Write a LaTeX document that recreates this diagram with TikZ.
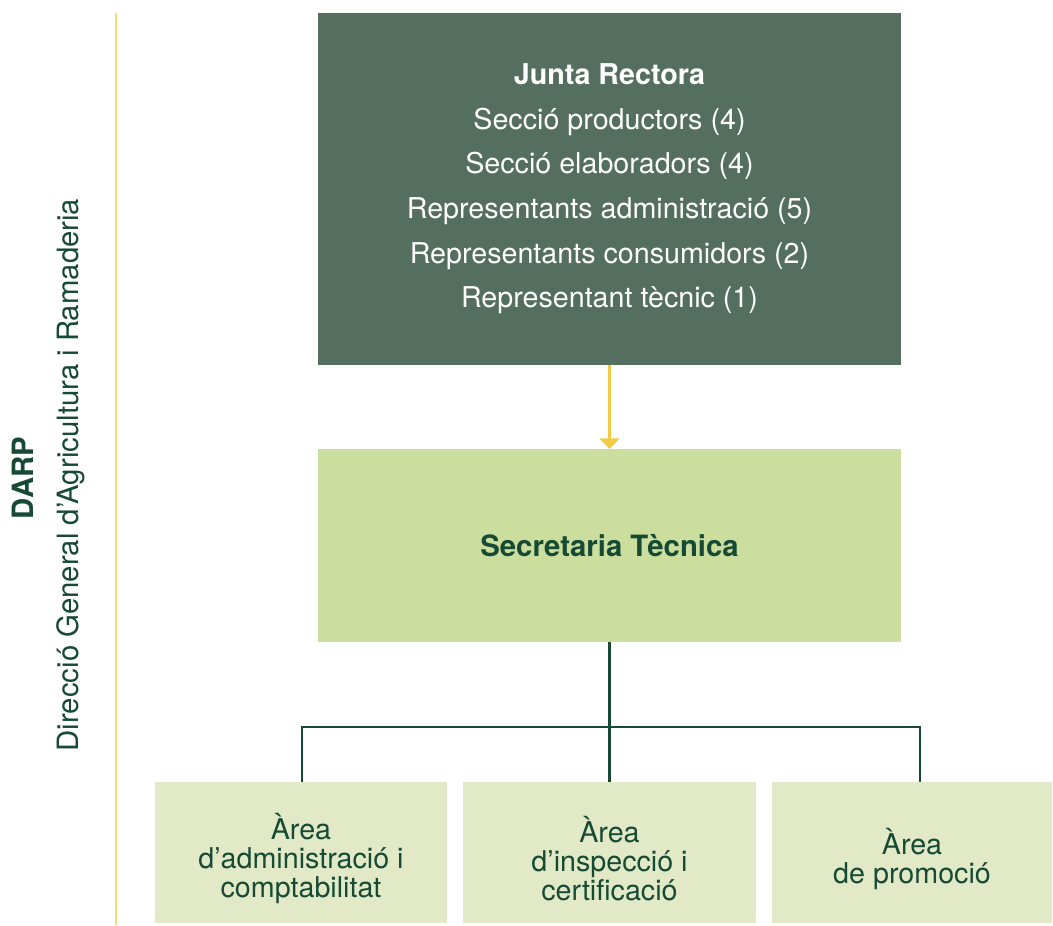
\documentclass[tikz,border=0pt]{standalone}
\usepackage{fontspec}
\setmainfont{TeX Gyre Heros}
\usetikzlibrary{arrows.meta}
\definecolor{darkbox}{HTML}{546F5F}
\definecolor{secbox}{HTML}{CCDE9E}
\definecolor{areabox}{HTML}{E1E9C7}
\definecolor{ink}{HTML}{164A34}
\definecolor{gold}{HTML}{F2CB45}
\definecolor{paleline}{HTML}{F4D978}
\begin{document}
\begin{tikzpicture}[x=0.75pt,y=-0.75pt,
  box/.style={inner sep=0pt, outer sep=0pt, align=center},
  juntabox/.style={box, fill=darkbox, text=white, minimum width=437.25pt, minimum height=264pt,
     font=\fontsize{21.5}{33.5}\selectfont},
  secrbox/.style={box, fill=secbox, text=ink, minimum width=437.25pt, minimum height=144.75pt,
     font=\fontsize{22}{26}\selectfont\bfseries},
  areab/.style={box, fill=areabox, minimum height=105.75pt},
  arealabel/.style={text=ink, align=center, font=\fontsize{21.5}{21.75}\selectfont, yshift=-4.5pt},
  conn/.style={draw=ink, line width=1.9pt},
  sidetext/.style={rotate=90, anchor=base, text=ink, font=\fontsize{22}{26}\selectfont}
]
\useasboundingbox (0,0) rectangle (1053,925);
% left band
\coordinate (ytop) at (116,13);
\coordinate (ybot) at (116,925);
\draw[paleline, line width=1.5pt] (ytop) -- (ybot);
\node[sidetext, font=\fontsize{22}{26}\selectfont\bfseries] (darp) at (33,478) {DARP};
\node[sidetext] (dg) at (78,475) {Direcció General d'Agricultura i Ramaderia};
% boxes
\node[juntabox] (junta) at (609.5,189) {{\bfseries Junta Rectora}\\Secció productors (4)\\Secció elaboradors (4)\\Representants administració (5)\\Representants consumidors (2)\\Representant tècnic (1)};
\node[secrbox] (secr) at (609.5,545.5) {Secretaria Tècnica};
\node[areab, minimum width=219pt, label={[arealabel]center:Àrea\\d’administració i\\comptabilitat}] (a1) at (301,852.5) {};
\node[areab, minimum width=219.75pt, label={[arealabel]center:Àrea\\d’inspecció i\\certificació}] (a2) at (609.5,852.5) {};
\node[areab, minimum width=210pt, label={[arealabel]center:Àrea\\de promoció}] (a3) at (912,852.5) {};
% arrow
\draw[gold, line width=2pt, -{Triangle[width=15pt,length=8pt]}] (junta.south) -- (secr.north);
% tree connector
\coordinate (hub) at (609.5,727);
\coordinate (hl) at (302,727);
\coordinate (hr) at (920,727);
\coordinate (d1) at (302,782);
\coordinate (d3) at (920,782);
\draw[conn] (secr.south) -- (hub);
\draw[conn] (d1) -- (hl) -- (hr) -- (d3);
\draw[conn] (hub) -- (a2.north);
\end{tikzpicture}
\end{document}
